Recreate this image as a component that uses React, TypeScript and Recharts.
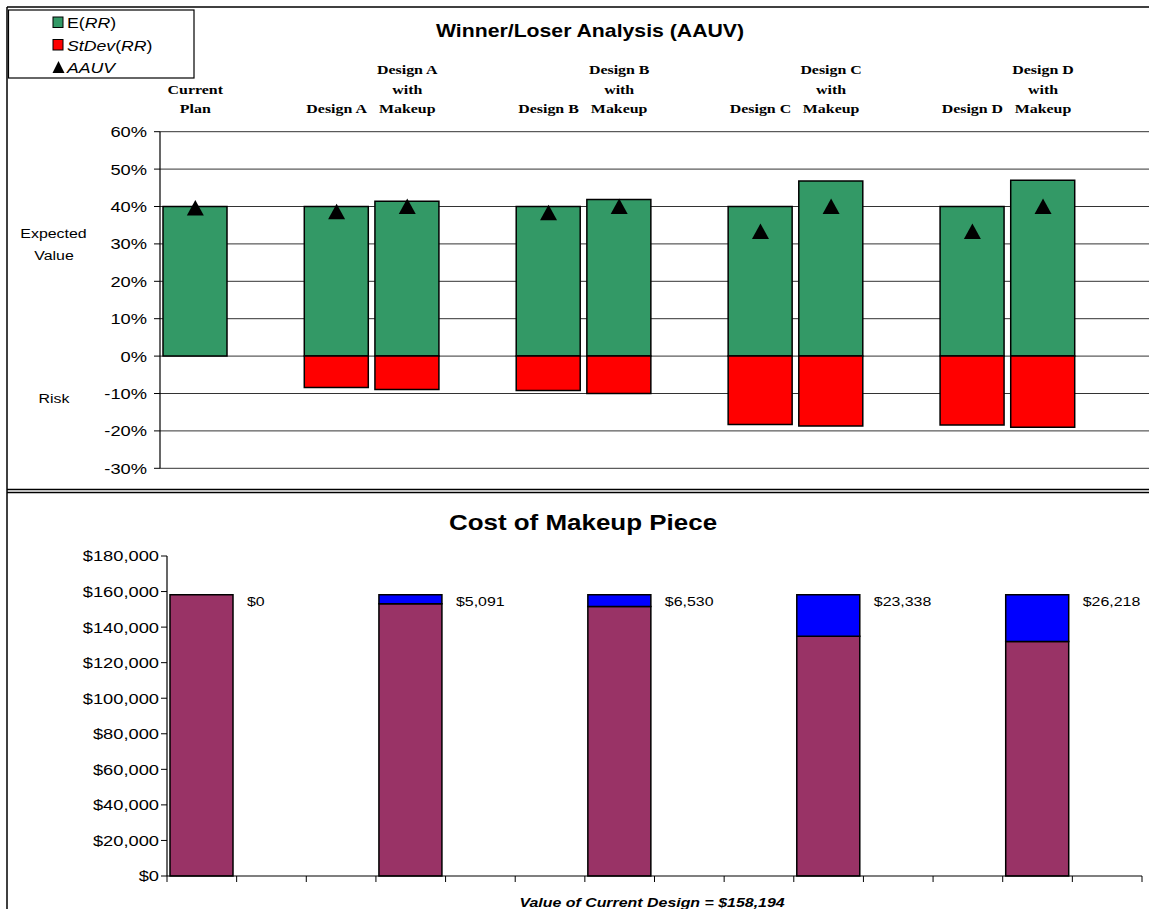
import React from 'react';
import { ComposedChart, BarChart, Bar, Line, XAxis, YAxis, CartesianGrid, LabelList } from 'recharts';

// ---------- data (top chart) ----------
const categories = [
  'Current\nPlan', '', 'Design A', 'Design A\nwith\nMakeup', '',
  'Design B', 'Design B\nwith\nMakeup', '', 'Design C', 'Design C\nwith\nMakeup', '',
  'Design D', 'Design D\nwith\nMakeup', '',
];
const expectedRR = [0.40, null, 0.40, 0.414, null, 0.40, 0.419, null, 0.40, 0.468, null, 0.40, 0.470, null];
const stdevRR = [null, null, -0.084, -0.089, null, -0.092, -0.100, null, -0.183, -0.187, null, -0.184, -0.190, null];
const aauv = [0.396, null, 0.386, 0.400, null, 0.383, 0.400, null, 0.333, 0.400, null, 0.333, 0.400, null];
const pctTicks = [-0.3, -0.2, -0.1, 0, 0.1, 0.2, 0.3, 0.4, 0.5, 0.6];
const legendNames = ['E(RR)', 'StDev(RR)', 'AAUV'];

// ---------- data (bottom chart) ----------
const costSlots = [
  'Current Plan', ' ', '  ', 'Design A with Makeup', '   ', '    ', 'Design B with Makeup', '     ', '      ',
  'Design C with Makeup', '       ', '        ', 'Design D with Makeup', '         ',
];
const baseValue = [158194, null, null, 153103, null, null, 151664, null, null, 134856, null, null, 131976, null];
const makeupCost = [0, null, null, 5091, null, null, 6530, null, null, 23338, null, null, 26218, null];
const costTicks = [0, 20000, 40000, 60000, 80000, 100000, 120000, 140000, 160000, 180000];
const currentDesignValue = 158194;

const topData = categories.map((c, i) => ({ cat: c, e: expectedRR[i], sd: stdevRR[i], aauv: aauv[i] }));
const costData = costSlots.map((c, i) => ({ name: c, base: baseValue[i], makeup: makeupCost[i] }));
const drawnBases = baseValue.filter((v) => v != null) as number[];

const SX = 1.18;
const ARIAL = "'Liberation Sans', Arial, sans-serif";
const TIMES = "'Liberation Serif', 'Times New Roman', serif";
const money = (v: number) => '$' + v.toLocaleString('en-US');

const CatTick = (p: any) => {
  const lines = String(p.payload?.value ?? '').split('\n').filter((s) => s.length > 0);
  if (!lines.length) return <g />;
  const base = 113;
  const lh = 19.5;
  return (
    <g>
      {lines.map((l, i) => (
        <text
          key={i}
          transform={`translate(${p.x},${base - (lines.length - 1 - i) * lh}) scale(${SX},1)`}
          textAnchor="middle"
          fontFamily={TIMES}
          fontWeight="bold"
          fontSize={13.5}
          fill="#000"
        >
          {l}
        </text>
      ))}
    </g>
  );
};

const PctTick = (p: any) => (
  <text
    transform={`translate(${p.x},${p.y}) scale(${SX},1)`}
    dy="0.35em"
    textAnchor="end"
    fontFamily={ARIAL}
    fontSize={15.5}
    fill="#000"
  >
    {Math.round(p.payload.value * 100) + '%'}
  </text>
);

const MoneyTick = (p: any) => (
  <text
    transform={`translate(${p.x},${p.y}) scale(${SX},1)`}
    dy="0.35em"
    textAnchor="end"
    fontFamily={ARIAL}
    fontSize={15.5}
    fill="#000"
  >
    {money(p.payload.value)}
  </text>
);

// tick marks at the category boundaries (Excel "between categories" style)
const EdgeTick = (p: any) => {
  const half = Number(p.payload?.offset) || 0;
  const y = Number(p.y);
  const x = Number(p.x);
  const last = p.index === costSlots.length - 1;
  return (
    <g>
      <line x1={x - half} y1={y} x2={x - half} y2={y + 6} stroke="#000" strokeWidth={1} />
      {last && <line x1={x + half} y1={y} x2={x + half} y2={y + 6} stroke="#000" strokeWidth={1} />}
    </g>
  );
};

const TriDot = (p: any) => {
  if (p.value == null || p.cy == null || isNaN(p.cy)) return <g key={p.index} />;
  const { cx, cy } = p;
  return <path key={p.index} d={`M${cx},${cy - 8}L${cx + 8.5},${cy + 7.5}L${cx - 8.5},${cy + 7.5}Z`} fill="#000" />;
};

// Label drawn from the base (maroon) bar's geometry: top of the stack = base top - makeup height
const CostLabel = (p: any) => {
  const makeup = p.value;
  const base = drawnBases[p.index];
  if (makeup == null || base == null) return null;
  const h = Number(p.height);
  const yBase = Number(p.y);
  const yTop = yBase - (Number(makeup) * h) / base;
  return (
    <text
      transform={`translate(${Number(p.x) + Number(p.width) + 14},${yTop + 6.5}) scale(${SX},1)`}
      dy="0.35em"
      textAnchor="start"
      fontFamily={ARIAL}
      fontSize={13.5}
      fill="#000"
    >
      {money(Number(makeup))}
    </text>
  );
};

const StretchText = ({ x, y, size, bold, italic, anchor = 'middle', children }: any) => (
  <text
    transform={`translate(${x},${y}) scale(${SX},1)`}
    textAnchor={anchor}
    fontFamily={ARIAL}
    fontSize={size}
    fontWeight={bold ? 'bold' : 'normal'}
    fontStyle={italic ? 'italic' : 'normal'}
    fill="#000"
  >
    {children}
  </text>
);

export default function App() {
  return (
    <div style={{ position: 'absolute', left: 0, top: 0, width: 1149, height: 909, background: '#fff', overflow: 'hidden' }}>
      <div style={{ position: 'absolute', left: 0, top: 0 }}>
        <ComposedChart
          width={1149}
          height={490}
          data={topData}
          margin={{ top: 71.7, right: 0, bottom: 21.7, left: 100 }}
          stackOffset="sign"
          barSize={64}
        >
          <CartesianGrid horizontal vertical={false} stroke="#333" strokeWidth={1} />
          <XAxis dataKey="cat" orientation="top" height={60} axisLine={false} tickLine={false} interval={0} tick={<CatTick />} />
          <YAxis
            domain={[-0.3, 0.6]}
            ticks={pctTicks}
            width={60}
            tickSize={6}
            tickMargin={7}
            allowDataOverflow
            axisLine={{ stroke: '#000', strokeWidth: 1.2 }}
            tickLine={{ stroke: '#000' }}
            tick={<PctTick />}
          />
          <Bar dataKey="e" name={legendNames[0]} stackId="s" fill="#339966" stroke="#000" strokeWidth={1.5} isAnimationActive={false} />
          <Bar dataKey="sd" name={legendNames[1]} stackId="s" fill="#FF0000" stroke="#000" strokeWidth={1.5} isAnimationActive={false} />
          <Line dataKey="aauv" name={legendNames[2]} stroke="none" dot={<TriDot />} activeDot={false} isAnimationActive={false} />
        </ComposedChart>
      </div>

      <div style={{ position: 'absolute', left: 0, top: 490 }}>
        <BarChart width={1149} height={419} data={costData} margin={{ top: 66, right: 7, bottom: 25, left: 100 }} barSize={63}>
          <XAxis
            dataKey="name"
            height={8}
            interval={0}
            tickSize={0}
            tickMargin={0}
            tickLine={false}
            axisLine={{ stroke: '#000', strokeWidth: 1.2 }}
            tick={<EdgeTick />}
          />
          <YAxis
            domain={[0, 180000]}
            ticks={costTicks}
            width={67}
            tickSize={6}
            tickMargin={2}
            axisLine={{ stroke: '#000', strokeWidth: 1.2 }}
            tickLine={{ stroke: '#000' }}
            tick={<MoneyTick />}
          />
          <Bar dataKey="base" stackId="c" fill="#993366" stroke="#000" strokeWidth={1.5} isAnimationActive={false}>
            <LabelList dataKey="makeup" content={<CostLabel />} />
          </Bar>
          <Bar dataKey="makeup" stackId="c" fill="#0000FF" stroke="#000" strokeWidth={1.5} isAnimationActive={false} />
        </BarChart>
      </div>

      <svg width={1149} height={909} style={{ position: 'absolute', left: 0, top: 0, pointerEvents: 'none' }}>
        {/* panel frames */}
        <line x1={7} y1={7} x2={1149} y2={7} stroke="#000" strokeWidth={1.5} />
        <line x1={7} y1={7} x2={7} y2={909} stroke="#000" strokeWidth={1.5} />
        <line x1={7} y1={489.5} x2={1149} y2={489.5} stroke="#000" strokeWidth={1.5} />
        <line x1={7} y1={492.5} x2={1149} y2={492.5} stroke="#000" strokeWidth={1.5} />

        {/* titles */}
        <StretchText x={590} y={37} size={18} bold>Winner/Loser Analysis (AAUV)</StretchText>
        <StretchText x={583} y={530} size={22} bold>Cost of Makeup Piece</StretchText>
        <StretchText x={652} y={907} size={13.5} bold italic>
          {'Value of Current Design = ' + money(currentDesignValue)}
        </StretchText>

        {/* side labels */}
        <StretchText x={53.5} y={238} size={13.5}>Expected</StretchText>
        <StretchText x={54} y={260} size={13.5}>Value</StretchText>
        <StretchText x={54} y={403} size={13.5}>Risk</StretchText>

        {/* legend */}
        <rect x={8.5} y={10} width={185.5} height={68} fill="#fff" stroke="#000" strokeWidth={1.2} />
        <rect x={53} y={17} width={10} height={10.5} fill="#339966" stroke="#000" strokeWidth={1} />
        <text transform={`translate(67,28) scale(${SX},1)`} fontFamily={ARIAL} fontSize={15} fill="#000">
          E(<tspan fontStyle="italic">RR</tspan>)
        </text>
        <rect x={53} y={39.5} width={10} height={10.5} fill="#FF0000" stroke="#000" strokeWidth={1} />
        <text transform={`translate(67,50.5) scale(${SX},1)`} fontFamily={ARIAL} fontSize={15} fill="#000">
          <tspan fontStyle="italic">StDev</tspan>(<tspan fontStyle="italic">RR</tspan>)
        </text>
        <path d="M58.5,61L64.5,73L52.5,73Z" fill="#000" />
        <text transform={`translate(67,73) scale(${SX},1)`} fontFamily={ARIAL} fontSize={15} fontStyle="italic" fill="#000">
          AAUV
        </text>
      </svg>
    </div>
  );
}
